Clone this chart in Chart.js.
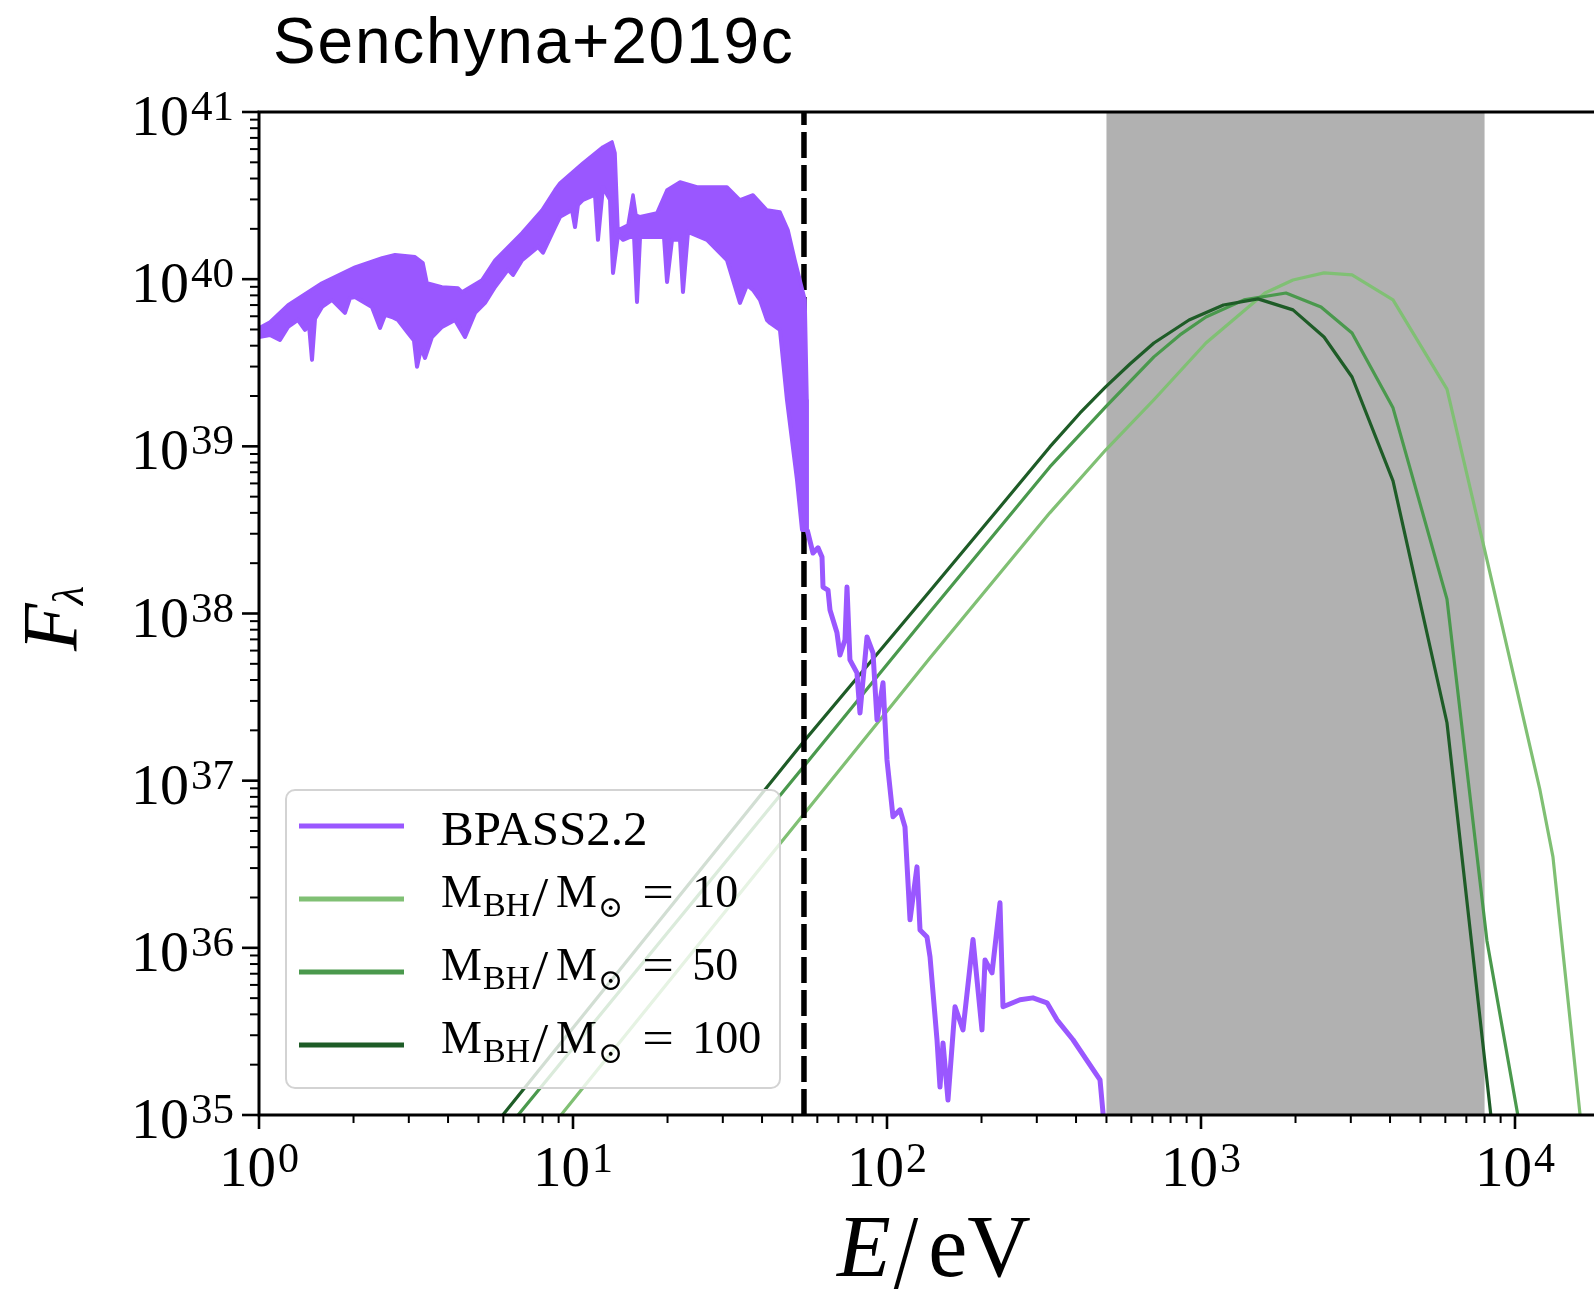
<!DOCTYPE html>
<html>
<head>
<meta charset="utf-8">
<script src="https://cdn.jsdelivr.net/npm/chart.js@4.4.1/dist/chart.umd.min.js"></script>
<style>
  html, body { margin: 0; padding: 0; background: #fff; overflow: hidden; }
  #wrap { position: relative; width: 1594px; height: 1296px; }
  #title {
    position: absolute; left: 273px; top: 9px;
    font: 64px "Liberation Sans", Arial, sans-serif; line-height: 64px;
    letter-spacing: 1.8px; color: #000; white-space: nowrap;
  }
  canvas { position: absolute; left: 0; top: 0; }
</style>
</head>
<body>
<div id="wrap">
  <div id="title">Senchyna+2019c</div>
  <canvas id="sed" width="1594" height="1296"></canvas>
</div>
<script>
// ---- axis ranges and ticks ----
const energyRange = [1, 17850];          // eV
const fluxRange = [1e35, 1e41];
const xTickExps = [0, 1, 2, 3, 4];
const yTickExps = [35, 36, 37, 38, 39, 40, 41];

// 0.5-8 keV band and the He II ionising edge (eV)
const xrayBand = [500, 8000];
const heIIEdge = 54.4;

// ---- BPASS2.2 stellar spectrum: [E (eV), F_lambda] ----
// upper and lower edges of the densely line-blanketed part
const bpassUpper = [
  [1.00, 5.11e39], [1.084, 5.55e39], [1.237, 7.01e39], [1.587, 9.49e39], [2.022, 1.18e40],
  [2.465, 1.34e40], [2.711, 1.40e40], [3.140, 1.36e40], [3.328, 1.25e40], [3.428, 9.49e39],
  [3.826, 8.98e39], [4.303, 8.86e39], [4.431, 8.38e39], [5.131, 9.89e39], [5.643, 1.30e40],
  [6.880, 1.89e40], [7.967, 2.59e40], [8.764, 3.42e40], [9.092, 3.76e40], [10.76, 4.95e40],
  [12.46, 6.18e40], [13.31, 6.62e40], [13.61, 5.69e40], [13.91, 1.97e40], [14.97, 2.11e40],
  [15.53, 3.19e40], [15.87, 2.42e40], [16.35, 2.36e40], [18.51, 2.49e40], [19.93, 3.42e40],
  [21.92, 3.81e40], [24.83, 3.56e40], [30.94, 3.56e40], [34.02, 2.98e40], [37.43, 3.19e40],
  [41.48, 2.59e40], [45.62, 2.52e40], [48.38, 1.97e40], [50.93, 1.30e40], [54.82, 7.51e39],
  [55.63, 1.90e39], [55.70, 3.16e38]
];
const bpassLower = [
  [1.00, 4.51e39], [1.084, 4.64e39], [1.166, 4.33e39], [1.237, 5.18e39], [1.331, 5.70e39],
  [1.401, 4.97e39], [1.443, 5.30e39], [1.475, 3.29e39], [1.508, 5.80e39], [1.587, 6.82e39],
  [1.708, 7.51e39], [1.878, 6.28e39], [1.949, 7.72e39], [2.022, 7.83e39], [2.290, 6.82e39],
  [2.428, 5.11e39], [2.519, 6.11e39], [2.652, 5.94e39], [2.771, 5.70e39], [2.983, 4.77e39],
  [3.116, 4.30e39], [3.186, 2.99e39], [3.256, 3.60e39], [3.304, 3.77e39], [3.378, 3.38e39],
  [3.556, 4.51e39], [3.826, 5.18e39], [4.209, 5.70e39], [4.530, 4.51e39], [4.875, 6.28e39],
  [5.245, 7.21e39], [5.643, 8.98e39], [6.209, 1.14e40], [6.441, 1.06e40], [6.880, 1.30e40],
  [7.736, 1.56e40], [8.026, 1.44e40], [8.764, 2.05e40], [9.092, 2.36e40], [9.93, 2.59e40],
  [10.15, 2.05e40], [10.37, 2.79e40], [10.76, 2.98e40], [11.75, 3.20e40], [12.01, 1.72e40],
  [12.46, 3.56e40], [13.12, 2.98e40], [13.41, 1.09e40], [13.91, 1.84e40], [14.43, 1.72e40],
  [15.19, 1.79e40], [15.65, 1.79e40], [15.99, 7.31e39], [16.35, 1.79e40], [18.92, 1.79e40],
  [19.49, 1.79e40], [19.93, 9.62e39], [20.67, 1.72e40], [21.92, 1.72e40], [22.40, 8.38e39],
  [23.24, 1.92e40], [26.72, 1.72e40], [30.94, 1.30e40], [32.33, 9.89e39], [34.02, 7.21e39],
  [35.83, 9.23e39], [37.43, 8.62e39], [39.40, 7.51e39], [41.48, 5.70e39], [42.41, 5.47e39],
  [45.62, 4.97e39], [48.02, 1.90e39], [51.68, 6.30e38], [53.63, 3.16e38], [55.70, 3.16e38]
];
// sparse ionising tail beyond the He II edge
const bpassTail = [
  [55.70, 3.16e38], [58.13, 2.30e38], [60.30, 2.47e38], [62.09, 2.18e38], [62.55, 1.44e38],
  [64.88, 1.38e38], [65.84, 1.05e38], [69.30, 7.66e37], [70.84, 5.65e37], [73.49, 6.95e37],
  [74.58, 1.44e38], [76.21, 5.28e37], [80.23, 4.41e37], [82.03, 2.54e37], [86.36, 7.24e37],
  [90.25, 5.81e37], [92.94, 2.31e37], [97.12, 3.85e37], [100.0, 1.33e37], [104.5, 6.08e36],
  [110.0, 6.69e36], [114.1, 5.29e36], [118.4, 1.47e36], [124.6, 3.05e36], [127.4, 1.28e36],
  [134.1, 1.16e36], [137.1, 8.83e35], [144.3, 2.82e35], [147.5, 1.47e35], [150.8, 2.70e35],
  [156.4, 1.23e35], [164.7, 4.44e35], [174.6, 3.23e35], [187.9, 1.12e36], [200.7, 3.23e35],
  [205.2, 8.47e35], [216.0, 7.08e35], [229.0, 1.86e36], [234.1, 4.44e35], [265.2, 4.89e35],
  [291.7, 5.02e35], [323.3, 4.69e35], [347.8, 3.71e35], [391.2, 2.82e35], [476.9, 1.62e35],
  [487.5, 1.03e35], [494.7, 7.1e34]
];

// ---- accreting black hole disc spectra: [E (eV), F_lambda] ----
const bhMasses = [10, 50, 100];
const bhDisc10 = [
  [8.0, 7.3e34], [54.8, 6.42e36], [137, 5.42e37], [330, 4.0e38], [497, 9.5e38],
  [708, 1.90e39], [1037, 4.15e39], [1599, 8.26e39], [1963, 9.88e39], [2465, 1.09e40],
  [3027, 1.06e40], [4088, 7.52e39], [6073, 2.20e39], [8143, 2.09e38], [12010, 8.8e36],
  [13210, 3.5e36], [17210, 3.1e34]
];
const bhDisc50 = [
  [6.0, 7.8e34], [54.8, 1.24e37], [137, 1.02e38], [330, 7.53e38], [497, 1.72e39],
  [708, 3.43e39], [857, 4.64e39], [1037, 5.94e39], [1371, 7.52e39], [1865, 8.26e39],
  [2411, 6.82e39], [3027, 4.77e39], [4088, 1.70e39], [6073, 1.22e38], [8143, 1.10e36],
  [11400, 3.1e34]
];
const bhDisc100 = [
  [5.0, 6.6e34], [54.8, 1.75e37], [137, 1.365e38], [229, 4.34e38], [330, 9.92e38],
  [412, 1.584e39], [497, 2.27e39], [594, 3.11e39], [708, 4.15e39], [916, 5.70e39],
  [1179, 7.01e39], [1519, 7.62e39], [1963, 6.55e39], [2465, 4.51e39], [3027, 2.60e39],
  [4088, 6.21e38], [6073, 2.22e37], [9000, 3.0e34]
];

// ---- styling ----
const PURPLE = '#9a57ff';
const GREENS = { 10: '#80c074', 50: '#4a994d', 100: '#1e5c27' };
const SERIF = '"Liberation Serif", "DejaVu Serif", serif';
const MATHSYM = '"DejaVu Serif", "DejaVu Sans", serif';

const pts = arr => arr.map(([x, y]) => ({ x, y }));
const discData = { 10: bhDisc10, 50: bhDisc50, 100: bhDisc100 };

const datasets = [
  { label: 'BPASS2.2', data: pts(bpassUpper), borderColor: PURPLE, borderWidth: 3.5,
    borderJoinStyle: 'round', fill: false },
  { label: 'BPASS2.2 (lower edge)', data: pts(bpassLower), borderColor: PURPLE, borderWidth: 4,
    borderJoinStyle: 'round', backgroundColor: PURPLE, fill: '-1' },
  { label: 'BPASS2.2 (tail)', data: pts(bpassTail), borderColor: PURPLE, borderWidth: 5,
    borderJoinStyle: 'round', fill: false },
  { label: 'He II edge', data: [{ x: heIIEdge, y: fluxRange[0] }, { x: heIIEdge, y: fluxRange[1] }],
    borderColor: '#000', borderWidth: 5.5, borderDash: [26, 7], borderCapStyle: 'butt', fill: false },
  ...bhMasses.slice().reverse().map(m => ({
    label: 'M_BH = ' + m, data: pts(discData[m]), borderColor: GREENS[m], borderWidth: 3.2,
    borderJoinStyle: 'round', fill: false
  }))
];

// ---- helpers for TeX-like labels ----
function drawPower(ctx, exp, x, y, align, mainPx, supPx, rise) {
  ctx.font = mainPx + 'px ' + SERIF;
  const wb = ctx.measureText('10').width;
  ctx.font = supPx + 'px ' + SERIF;
  const we = ctx.measureText(String(exp)).width;
  const total = wb + 2 + we;
  const x0 = align === 'right' ? x - total : x - total / 2;
  ctx.font = mainPx + 'px ' + SERIF;
  ctx.fillText('10', x0, y);
  ctx.font = supPx + 'px ' + SERIF;
  ctx.fillText(String(exp), x0 + wb + 2, y - rise);
}

function drawMassLabel(ctx, x, y, mass) {
  let cx = x;
  ctx.font = '46px ' + SERIF;
  ctx.fillText('M', cx, y); cx += ctx.measureText('M').width + 1;
  ctx.font = '34px ' + SERIF;
  ctx.fillText('BH', cx, y + 9); cx += ctx.measureText('BH').width + 2;
  ctx.font = '46px ' + SERIF;
  ctx.save(); ctx.translate(cx, y + 8); ctx.scale(1.25, 1.2); ctx.fillText('/', 0, 0); ctx.restore();
  cx += ctx.measureText('/').width * 1.25 + 8;
  ctx.fillText('M', cx, y); cx += ctx.measureText('M').width + 1;
  ctx.font = '30px ' + MATHSYM;
  ctx.fillText('\u2299', cx, y + 10); cx += ctx.measureText('\u2299').width + 19;
  ctx.font = '46px ' + SERIF;
  ctx.save(); ctx.translate(cx, y); ctx.scale(1.22, 1); ctx.fillText('=', 0, 0); ctx.restore();
  ctx.fillText(String(mass), cx + 50, y);
}

function roundRect(ctx, x, y, w, h, r) {
  ctx.beginPath();
  ctx.moveTo(x + r, y);
  ctx.arcTo(x + w, y, x + w, y + h, r);
  ctx.arcTo(x + w, y + h, x, y + h, r);
  ctx.arcTo(x, y + h, x, y, r);
  ctx.arcTo(x, y, x + w, y, r);
  ctx.closePath();
}

// ---- decorations: band, frame, ticks, labels, legend ----
const decorations = {
  id: 'decorations',
  beforeDatasetsDraw(chart) {
    const { ctx, chartArea: a, scales: { x } } = chart;
    const x0 = x.getPixelForValue(xrayBand[0]);
    const x1 = x.getPixelForValue(xrayBand[1]);
    ctx.save();
    ctx.fillStyle = '#b1b1b1';
    ctx.fillRect(x0, a.top, x1 - x0, a.bottom - a.top);
    ctx.restore();
  },
  afterDraw(chart) {
    const { ctx, chartArea: a, scales: { x, y } } = chart;
    ctx.save();
    ctx.strokeStyle = '#000';
    ctx.fillStyle = '#000';

    // frame
    ctx.lineWidth = 3;
    ctx.beginPath();
    ctx.moveTo(a.left, a.top); ctx.lineTo(a.right, a.top);
    ctx.moveTo(a.left, a.top - 1.5); ctx.lineTo(a.left, a.bottom + 1.5);
    ctx.moveTo(a.left, a.bottom); ctx.lineTo(a.right, a.bottom);
    ctx.stroke();

    // x ticks (major and minor)
    for (let e = xTickExps[0]; e <= xTickExps[xTickExps.length - 1]; e++) {
      for (let m = 1; m < 10; m++) {
        const v = m * Math.pow(10, e);
        if (v < energyRange[0] || v > energyRange[1]) continue;
        const px = x.getPixelForValue(v);
        ctx.lineWidth = m === 1 ? 2.6 : 2;
        ctx.beginPath();
        ctx.moveTo(px, a.bottom);
        ctx.lineTo(px, a.bottom + (m === 1 ? 14 : 8));
        ctx.stroke();
      }
    }
    // y ticks (major and minor)
    for (let e = yTickExps[0]; e <= yTickExps[yTickExps.length - 1]; e++) {
      for (let m = 1; m < 10; m++) {
        const v = m * Math.pow(10, e);
        if (v < fluxRange[0] * 0.999 || v > fluxRange[1] * 1.001) continue;
        const py = y.getPixelForValue(v);
        ctx.lineWidth = m === 1 ? 2.6 : 2;
        ctx.beginPath();
        ctx.moveTo(a.left, py);
        ctx.lineTo(a.left - (m === 1 ? 17 : 9), py);
        ctx.stroke();
      }
    }

    // tick labels
    ctx.textBaseline = 'alphabetic';
    ctx.textAlign = 'left';
    xTickExps.forEach(e => {
      const px = x.getPixelForValue(Math.pow(10, e));
      drawPower(ctx, e, px, a.bottom + 71, 'center', 57, 42, 14);
    });
    yTickExps.forEach(e => {
      const py = y.getPixelForValue(Math.pow(10, e));
      drawPower(ctx, e, a.left - 25, py + 23, 'right', 58, 43, 15);
    });

    // axis titles
    ctx.font = 'italic 88px ' + SERIF;
    const wE = ctx.measureText('E').width;
    ctx.font = '88px ' + SERIF;
    const wS = ctx.measureText('/').width;
    const wEV = ctx.measureText('eV').width;
    const totalX = wE + 3 + wS + 10 + wEV;
    let tx = 934 - totalX / 2;
    const tBase = a.bottom + 161;
    ctx.font = 'italic 88px ' + SERIF;
    ctx.fillText('E', tx, tBase); tx += wE + 3;
    ctx.font = '88px ' + SERIF;
    ctx.save(); ctx.translate(tx, tBase + 12); ctx.scale(1, 1.2); ctx.fillText('/', 0, 0); ctx.restore();
    tx += wS + 10;
    ctx.fillText('eV', tx, tBase);

    ctx.save();
    ctx.translate(76, 651);
    ctx.rotate(-Math.PI / 2);
    ctx.font = 'italic 78px ' + SERIF;
    ctx.fillText('F', 0, 0);
    ctx.font = 'italic 44px ' + SERIF;
    ctx.fillText('\u03bb', 46, 7);
    ctx.restore();

    // legend
    const lx = a.left + 27, lb = a.bottom - 27;
    const lw = 494, lh = 298, ly = lb - lh;
    ctx.fillStyle = 'rgba(255,255,255,0.8)';
    ctx.strokeStyle = '#d3d3d3';
    ctx.lineWidth = 2;
    roundRect(ctx, lx, ly, lw, lh, 9);
    ctx.fill();
    ctx.stroke();

    const rows = [{ color: PURPLE, label: 'BPASS2.2' }]
      .concat(bhMasses.map(m => ({ color: GREENS[m], mass: m })));
    rows.forEach((r, i) => {
      const ry = ly + 36 + i * 73;
      ctx.strokeStyle = r.color;
      ctx.lineWidth = 5;
      ctx.beginPath();
      ctx.moveTo(lx + 13, ry); ctx.lineTo(lx + 118, ry);
      ctx.stroke();
      ctx.fillStyle = '#000';
      if (r.label) {
        ctx.font = '49px ' + SERIF;
        ctx.fillText(r.label, lx + 155, ry + 19);
      } else {
        drawMassLabel(ctx, lx + 155, ry + 8, r.mass);
      }
    });
    ctx.restore();
  }
};

new Chart(document.getElementById('sed'), {
  type: 'line',
  data: { datasets },
  options: {
    responsive: false,
    animation: false,
    devicePixelRatio: 1,
    layout: { padding: { left: 259, top: 112, right: 0, bottom: 181 } },
    elements: { point: { radius: 0 }, line: { tension: 0 } },
    scales: {
      x: { type: 'logarithmic', min: energyRange[0], max: energyRange[1], display: false },
      y: { type: 'logarithmic', min: fluxRange[0], max: fluxRange[1], display: false }
    },
    plugins: { legend: { display: false }, tooltip: { enabled: false } }
  },
  plugins: [decorations]
});
</script>
</body>
</html>
